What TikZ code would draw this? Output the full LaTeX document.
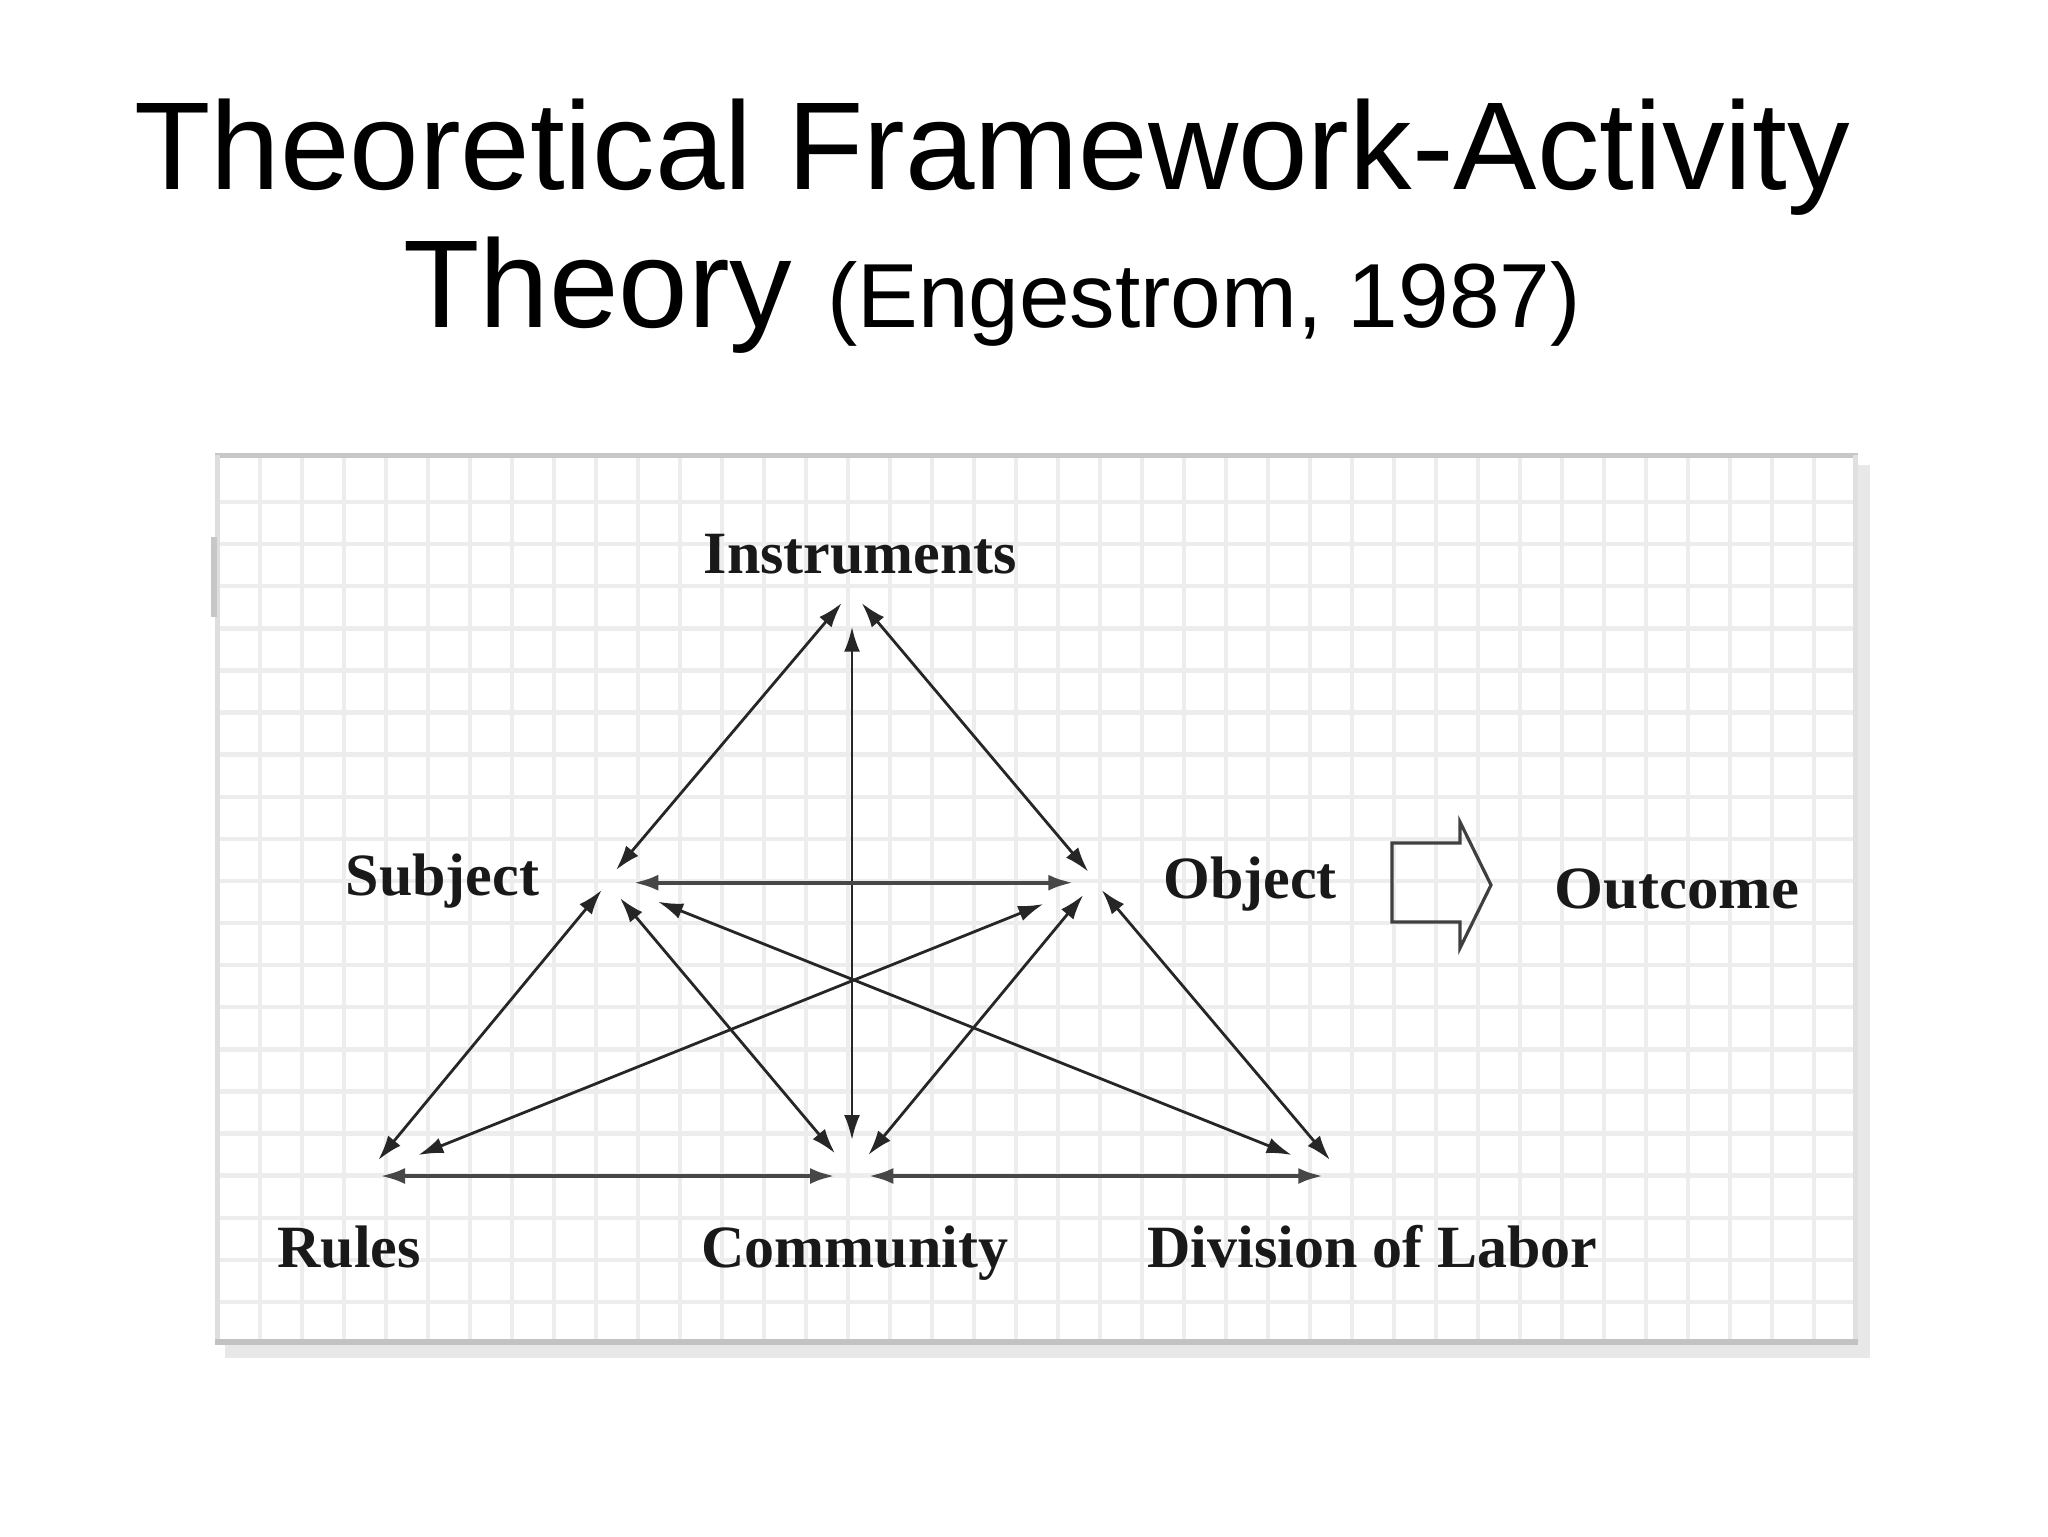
\documentclass[tikz,border=0pt]{standalone}
\usepackage{fontspec}
\setmainfont{Liberation Sans}
\newfontfamily\labelfont{Liberation Serif}
\usetikzlibrary{arrows.meta}
\begin{document}
\begin{tikzpicture}[x=0.5pt,y=-0.5pt,
  gridline/.style={draw=black!7, line width=2.2pt},
  lbl/.style={font=\labelfont\bfseries\fontsize{30}{36}\selectfont, anchor=base, inner sep=0pt, text=black!90},
  link/.style={{Latex[length=12.5pt,width=8pt]}-{Latex[length=12.5pt,width=8pt]}, line width=1.4pt, draw=black!85},
  hlink/.style={link, line width=2.2pt, draw=black!72},
  outarrow/.style={draw=black!75, line width=1.6pt, line join=miter},
  titlefont/.style={font=\fontsize{62.5}{70}\selectfont, anchor=base, inner sep=0pt}
]
\useasboundingbox (0,0) rectangle (2048,1536);
\fill[white] (0,0) rectangle (2048,1536);

% title
\node[titlefont] (title1) at (992,189) {Theoretical Framework-Activity};
\node[titlefont] (title2) at (992,327) {Theory {\fontsize{45.5}{50}\selectfont (Engestrom, 1987)}};

% panel with shadow
\fill[black!9] (225,465) rectangle (1870,1358);
\fill[white] (215,453) rectangle (1858,1345);
\foreach \i in {0,...,37} \draw[gridline] ({260+\i*42},458) -- ({260+\i*42},1340);
\foreach \j in {0,...,19} \draw[gridline] (220,{502+\j*42.1}) -- (1853,{502+\j*42.1});
\draw[black!22, line width=2.5pt] (215,455.5) -- (1858,455.5);
\draw[black!13, line width=2.5pt] (217.5,455) -- (217.5,1345);
\fill[black!22] (211,537) rectangle (217,617);
\draw[black!12, line width=2.5pt] (1855.5,455) -- (1855.5,1345);
\draw[black!24, line width=3pt] (215,1342) -- (1858,1342);

% labels
\node[lbl] (instr) at (860.5,573) {Instruments};
\node[lbl] (subj) at (442.5,895) {Subject};
\node[lbl] (obj) at (1250,898) {Object};
\node[lbl, xscale=1.05] (outc) at (1676.5,908) {Outcome};
\node[lbl] (rules) at (349,1267) {Rules};
\node[lbl] (comm) at (855,1267) {Community};
\node[lbl] (div) at (1372.5,1267) {Division of Labor};

% arrow end points
\coordinate (I-S) at (841.7,603);
\coordinate (I-O) at (861.7,603);
\coordinate (I-C) at (852,626.7);
\coordinate (S-I) at (616,870);
\coordinate (S-O) at (633.3,882.7);
\coordinate (S-R) at (601.7,890);
\coordinate (S-C) at (620,898);
\coordinate (S-D) at (658,901.7);
\coordinate (O-I) at (1088.3,871.7);
\coordinate (O-S) at (1073.3,882.7);
\coordinate (O-R) at (1043.3,904);
\coordinate (O-C) at (1083.3,895);
\coordinate (O-D) at (1101.7,890);
\coordinate (R-S) at (378.3,1160);
\coordinate (R-O) at (418.3,1155);
\coordinate (R-C) at (380,1176);
\coordinate (C-S) at (835,1153.3);
\coordinate (C-I) at (852,1140);
\coordinate (C-O) at (868.3,1155);
\coordinate (C-R) at (835,1176);
\coordinate (C-D) at (868.3,1176);
\coordinate (D-S) at (1291.7,1155);
\coordinate (D-O) at (1330,1160);
\coordinate (D-C) at (1323.3,1176);

% connectors
\draw[link] (I-S) -- (S-I);
\draw[link] (I-O) -- (O-I);
\draw[link] (I-C) -- (C-I);
\draw[hlink] (S-O) -- (O-S);
\draw[link] (S-R) -- (R-S);
\draw[link] (S-C) -- (C-S);
\draw[link] (S-D) -- (D-S);
\draw[link] (O-R) -- (R-O);
\draw[link] (O-C) -- (C-O);
\draw[link] (O-D) -- (D-O);
\draw[hlink] (R-C) -- (C-R);
\draw[hlink] (C-D) -- (D-C);

% outcome block arrow
\draw[outarrow] (1392,843) -- (1460,843) -- (1460,822) -- (1491,885) -- (1460,948) -- (1460,922) -- (1392,922) -- cycle;
\end{tikzpicture}
\end{document}
